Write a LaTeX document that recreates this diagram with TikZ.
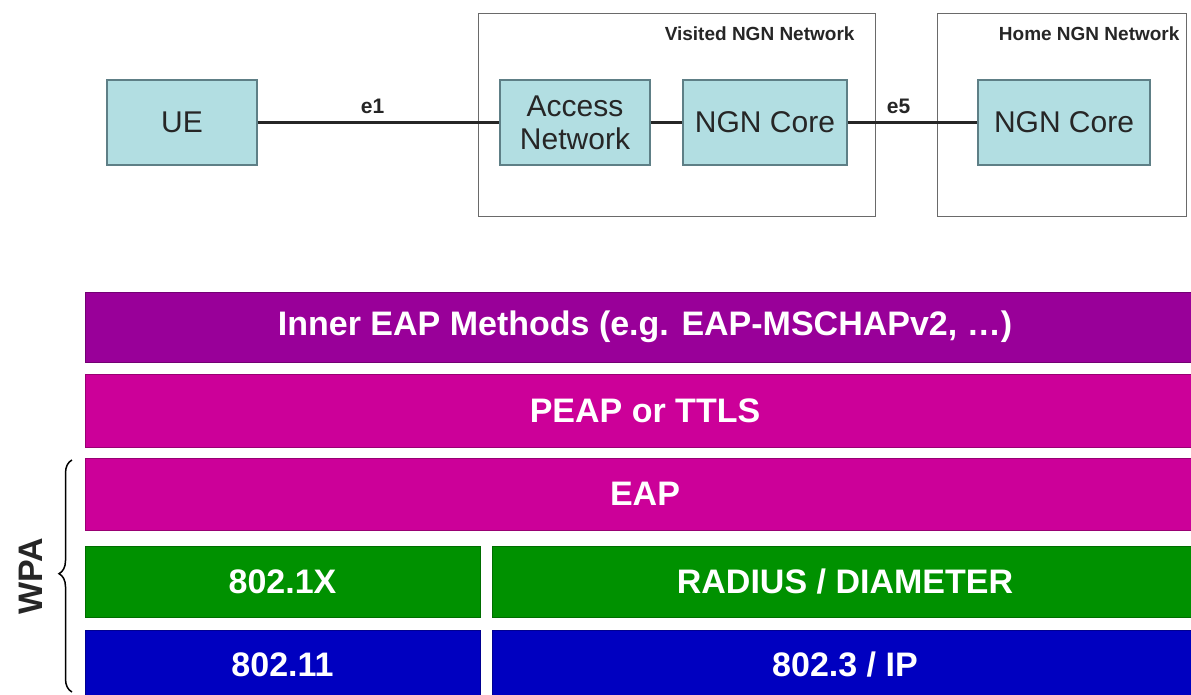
\documentclass[tikz,border=0pt]{standalone}
\usepackage{fontspec}
\setmainfont{Liberation Sans}
\usetikzlibrary{decorations.pathreplacing}
\definecolor{boxfill}{HTML}{B2DEE2}
\definecolor{boxline}{HTML}{5E7F86}
\definecolor{netline}{HTML}{6A6A6A}
\definecolor{innerc}{HTML}{990099}
\definecolor{peapc}{HTML}{CC0099}
\definecolor{greenc}{HTML}{009100}
\definecolor{bluec}{HTML}{0000C0}
\tikzset{
  elem/.style={draw=boxline, line width=1.2pt, fill=boxfill, minimum height=85pt,
    inner sep=0pt, align=center, font=\fontsize{30}{33}\selectfont, text=black!85},
  netbox/.style={draw=netline, line width=1pt},
  netlabel/.style={font=\bfseries\fontsize{19}{21}\selectfont, anchor=east, text=black!85},
  link/.style={line width=2.5pt, draw=black!85},
  linklabel/.style={font=\bfseries\fontsize{21}{23}\selectfont, text=black!85},
  layer/.style={inner sep=0pt, text=white, font=\bfseries\fontsize{34}{36}\selectfont},
  band/.style={line width=1pt}
}
\begin{document}
\begin{tikzpicture}[x=1pt,y=-1pt]
\useasboundingbox (0,0) rectangle (1191,695);
% network domains
\draw[netbox] (478,14) rectangle (875,217);
\node[netlabel] (vlab) at (858,34) {Visited NGN Network};
\draw[netbox] (937,14) rectangle (1186,217);
\node[netlabel] (hlab) at (1183,34) {Home NGN Network};
% network elements
\node[elem, minimum width=150pt] (ue) at (182,122.5) {UE};
\node[elem, minimum width=150pt] (an) at (575,122.5) {Access\\Network};
\node[elem, minimum width=164pt] (vc) at (765,122.5) {NGN Core};
\node[elem, minimum width=172pt] (hc) at (1064,122.5) {NGN Core};
% reference points
\draw[link] (ue) -- node[linklabel, above=4pt, xshift=-6pt] {e1} (an);
\draw[link] (an) -- (vc);
\draw[link] (vc) -- node[linklabel, above=4pt, xshift=-14pt] {e5} (hc);
% protocol stack
\filldraw[band, fill=innerc, draw=innerc!75!black] (85,292) rectangle (1192,362);
\node[layer] (inner) at (645,327) {Inner EAP Methods (e.g. EAP-MSCHAPv2, …)};
\filldraw[band, fill=peapc, draw=peapc!75!black] (85,374) rectangle (1192,447);
\node[layer] (peap) at (645,410.5) {PEAP or TTLS};
\filldraw[band, fill=peapc, draw=peapc!75!black] (85,458) rectangle (1192,530);
\node[layer] (eap) at (645,494) {EAP};
\filldraw[band, fill=greenc, draw=greenc!75!black] (85,546) rectangle (480,617);
\node[layer] (dotx) at (282.5,581.5) {802.1X};
\filldraw[band, fill=greenc, draw=greenc!75!black] (492,546) rectangle (1192,617);
\node[layer] (rad) at (845,581.5) {RADIUS / DIAMETER};
\filldraw[band, fill=bluec, draw=bluec!75!black] (85,630) rectangle (480,697);
\node[layer] (wifi) at (282.5,665) {802.11};
\filldraw[band, fill=bluec, draw=bluec!75!black] (492,630) rectangle (1192,697);
\node[layer] (eth) at (845,665) {802.3 / IP};
% WPA brace
\coordinate (btop) at (72,460);
\coordinate (bbot) at (72,692);
\draw[line width=1.5pt, decorate, decoration={brace, amplitude=13pt, aspect=0.51}] (bbot) -- (btop);
\node[rotate=90, font=\bfseries\fontsize{34}{36}\selectfont, text=black!85] (wpa) at (31,576) {WPA};
\end{tikzpicture}
\end{document}
